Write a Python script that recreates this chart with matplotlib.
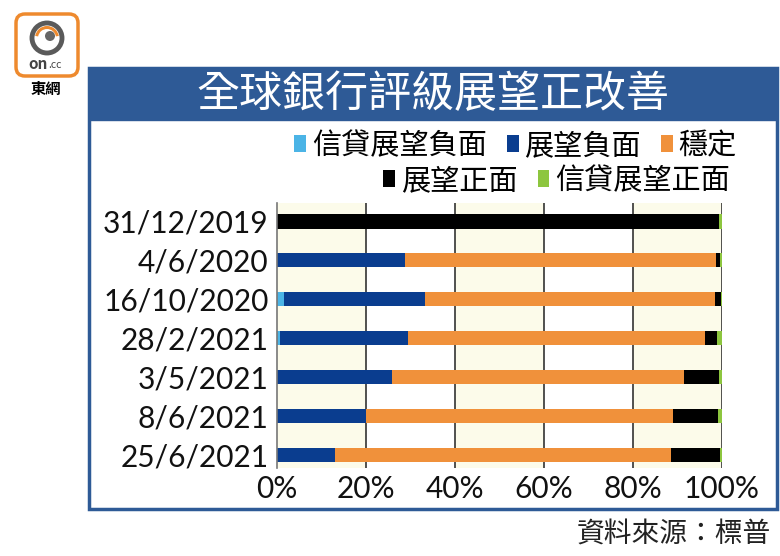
import matplotlib
matplotlib.use("Agg")
import matplotlib.pyplot as plt
import numpy as np
from matplotlib.patches import Rectangle, FancyBboxPatch, Circle, Wedge, Patch

plt.rcParams["font.family"] = ["Noto Sans CJK TC", "DejaVu Sans"]

# data (share of banks, %)
dates = ["31/12/2019", "4/6/2020", "16/10/2020", "28/2/2021",
         "3/5/2021", "8/6/2021", "25/6/2021"]
credit_negative = [0.0, 0.0, 1.5, 0.7, 0.0, 0.0, 0.0]
negative = [0.0, 28.8, 31.8, 28.7, 25.8, 20.0, 13.0]
stable = [0.0, 69.9, 65.1, 66.8, 65.7, 69.0, 75.5]
positive = [99.4, 0.9, 1.4, 2.7, 7.8, 10.2, 11.0]
credit_positive = [0.6, 0.4, 0.2, 1.1, 0.7, 0.8, 0.5]

series_names = ["信貸展望負面", "展望負面", "穩定", "展望正面", "信貸展望正面"]
series_colors = ["#4BB4E6", "#0A3D8F", "#F0913B", "#000000", "#8DC63F"]
xticks = [0, 20, 40, 60, 80, 100]
xtick_labels = ["0%", "20%", "40%", "60%", "80%", "100%"]

title = "全球銀行評級展望正改善"
source = "資料來源：標普"

FRAME_BLUE = "#2E5A96"
CREAM = "#FCFBEA"
NUM_FONT = ["Lato", "Noto Sans CJK TC"]
W, H = 780, 556


def fx(x):
    return x / W


def fy(y):
    return 1 - y / H


fig = plt.figure(figsize=(7.8, 5.56), dpi=100)

# frame and title band
fig.patches.append(Rectangle((fx(89), fy(509)), fx(688), 441 / H, transform=fig.transFigure,
                             facecolor="white", edgecolor=FRAME_BLUE, lw=2.5, zorder=0))
fig.patches.append(Rectangle((fx(89), fy(120)), fx(688), 52 / H, transform=fig.transFigure,
                             facecolor=FRAME_BLUE, edgecolor=FRAME_BLUE, lw=1, zorder=1))
fig.text(fx(433), fy(95), title, color="white", fontsize=31, ha="center", va="center")

# logo
lax = fig.add_axes([fx(8), fy(100), fx(80), 92 / H])
lax.set_zorder(5)
lax.set_xlim(8, 88)
lax.set_ylim(100, 8)
lax.set_aspect("equal")
lax.axis("off")
lax.add_patch(FancyBboxPatch((16, 14), 62, 62, boxstyle="round,pad=0,rounding_size=9",
                             facecolor="white", edgecolor="#EE8A2E", lw=2.5))
lax.add_patch(Circle((47, 38), 15, facecolor="none", edgecolor="#5A5A5A", lw=3.5))
lax.add_patch(Wedge((47, 38), 12, 190, 350, width=3, facecolor="#EE8A2E"))
lax.add_patch(Circle((50, 36), 5, facecolor="#666666"))
lax.text(48, 64, "on", fontsize=11, fontweight="bold", color="#444444", ha="right", va="center")
lax.text(48, 65, ".cc", fontsize=7.5, color="#444444", ha="left", va="center")
lax.text(46, 89, "東網", fontsize=11, fontweight="bold", color="black", ha="center", va="center")

# legend (two rows, right aligned)
handles = [Patch(facecolor=c, edgecolor="none") for c in series_colors]
leg_kw = dict(frameon=False, fontsize=21, handlelength=0.4, handleheight=0.55,
              handletextpad=0.2, columnspacing=0.7, borderpad=0, borderaxespad=0,
              bbox_transform=fig.transFigure, loc="center right")
fig.legend(handles[:3], series_names[:3], ncol=3, bbox_to_anchor=(fx(737), fy(146)), **leg_kw)
fig.legend(handles[3:], series_names[3:], ncol=2, bbox_to_anchor=(fx(730), fy(181)), **leg_kw)

# main chart
ax = fig.add_axes([fx(277), fy(468), fx(722 - 277), (468 - 203) / H])
ax.set_zorder(5)
y = np.arange(len(dates))
for x0 in (0, 40, 80):
    ax.axvspan(x0, x0 + 20, color=CREAM, zorder=0, lw=0)

left = np.zeros(len(dates))
for vals, c in zip([credit_negative, negative, stable, positive, credit_positive], series_colors):
    ax.barh(y, vals, left=left, height=0.37, color=c, zorder=2, lw=0)
    left = left + np.array(vals)

for xv in xticks[1:]:
    ax.axvline(xv, color="#222222", lw=1.1, zorder=1)

ax.set_xlim(0, 100)
ax.set_ylim(6.33, -0.47)
ax.set_yticks(y)
ax.set_yticklabels(dates, fontsize=21.5, family=NUM_FONT)
ax.set_xticks(xticks)
ax.set_xticklabels(xtick_labels, fontsize=21.5, family=NUM_FONT)
ax.tick_params(axis="both", length=0, colors="#111111")
ax.tick_params(axis="y", pad=6)
ax.tick_params(axis="x", pad=5)
for s in ("top", "right", "bottom"):
    ax.spines[s].set_visible(False)
ax.spines["left"].set_color("#777777")
ax.spines["left"].set_linewidth(1.2)

fig.text(fx(771), fy(535), source, fontsize=20, ha="right", va="center", color="#222222")

fig.savefig("out.png", dpi=100)
